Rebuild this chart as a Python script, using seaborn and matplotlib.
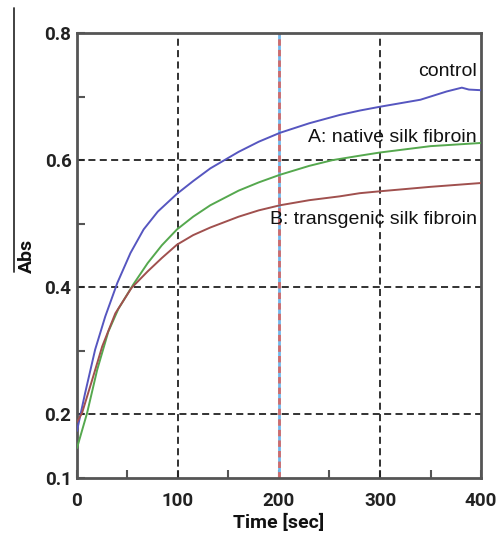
import matplotlib
matplotlib.use("Agg")
import matplotlib.pyplot as plt
import numpy as np
import pandas as pd
import seaborn as sns
from matplotlib.lines import Line2D
from matplotlib.ticker import FixedLocator

# ---- data ----
control_t = [0, 8, 18, 28, 40, 53, 66, 80, 99, 115, 132, 160, 180, 201, 230, 260, 280, 300, 340, 366, 381, 388, 400]
control_v = [0.174, 0.233, 0.302, 0.354, 0.407, 0.454, 0.491, 0.519, 0.547, 0.567, 0.587, 0.613, 0.629, 0.643,
             0.658, 0.671, 0.678, 0.684, 0.695, 0.708, 0.714, 0.711, 0.710]

native_t = [0, 10, 20, 31, 41, 56, 70, 84, 99, 115, 132, 160, 180, 201, 230, 253, 280, 300, 350, 400]
native_v = [0.147, 0.202, 0.270, 0.330, 0.366, 0.405, 0.438, 0.466, 0.491, 0.511, 0.529, 0.552, 0.565,
            0.577, 0.591, 0.600, 0.607, 0.612, 0.622, 0.627]

transgenic_t = [0, 5, 15, 25, 38, 54, 70, 84, 99, 115, 132, 160, 180, 201, 230, 260, 280, 300, 350, 400]
transgenic_v = [0.188, 0.202, 0.254, 0.307, 0.359, 0.399, 0.425, 0.446, 0.467, 0.482, 0.494, 0.511, 0.521,
                0.529, 0.537, 0.543, 0.548, 0.551, 0.558, 0.564]

series_names = ["control", "A: native silk fibroin", "B: transgenic silk fibroin"]
series_colors = ["#5656c0", "#55a84e", "#a0504e"]
label_pos = [(396, 0.739), (396, 0.635), (396, 0.506)]

x_ticks = [0, 100, 200, 300, 400]
x_minor = [50, 150, 250, 350]
y_ticks = [0.1, 0.2, 0.4, 0.6, 0.8]
y_minor = [0.3, 0.5, 0.7]
y_tick_labels = ["0.1", "0.2", "0.4", "0.6", "0.8"]

df = pd.concat([
    pd.DataFrame({"t": control_t, "v": control_v, "s": series_names[0]}),
    pd.DataFrame({"t": native_t, "v": native_v, "s": series_names[1]}),
    pd.DataFrame({"t": transgenic_t, "v": transgenic_v, "s": series_names[2]}),
])

sns.set_style("white")
plt.rcParams['font.family'] = ['Roboto', 'DejaVu Sans']

fig = plt.figure(figsize=(5.03, 5.39), dpi=100)
ax = fig.add_axes([0.153, 0.1132, 0.8033, 0.8256])

# grid-like reference lines
for gx in [100, 300]:
    ax.axvline(gx, color="#222222", lw=1.3, ls=(0, (3.9, 2.4)), zorder=1)
for gy in [0.2, 0.4, 0.6]:
    ax.axhline(gy, color="#222222", lw=1.3, ls=(0, (3.9, 2.4)), zorder=1)
ax.axvline(200, color="#6fb8ec", lw=2.0, zorder=1.5)
ax.axvline(200, color="#d26a6a", lw=2.0, ls=(0, (2.3, 1.5)), zorder=1.6)

sns.lineplot(data=df, x="t", y="v", hue="s", palette=series_colors, hue_order=series_names,
             linewidth=1.4, legend=False, ax=ax, zorder=3, estimator=None, sort=True)

for name, (lx, ly) in zip(series_names, label_pos):
    ax.text(lx, ly, name, ha="right", va="center", fontsize=14,
            family=["Liberation Sans", "DejaVu Sans"], color="#111111")

ax.set_xlim(0, 400)
ax.set_ylim(0.1, 0.8)
ax.xaxis.set_major_locator(FixedLocator(x_ticks))
ax.xaxis.set_minor_locator(FixedLocator(x_minor))
ax.yaxis.set_major_locator(FixedLocator(y_ticks))
ax.yaxis.set_minor_locator(FixedLocator(y_minor))
ax.set_yticklabels(y_tick_labels)

for sp in ax.spines.values():
    sp.set_color("#555555")
    sp.set_linewidth(2)

ax.tick_params(axis="both", which="both", direction="in", color="#555555", width=1.5,
               labelsize=13.5, labelcolor="#222222", bottom=True, left=True, top=False, right=False)
ax.tick_params(axis="both", which="major", length=6)
ax.tick_params(axis="both", which="minor", length=6)
ax.tick_params(axis="x", which="major", pad=10)
ax.tick_params(axis="y", which="major", pad=4)
for lab in ax.get_xticklabels() + ax.get_yticklabels():
    lab.set_fontweight("bold")

ax.set_xlabel("Time [sec]", fontsize=14, fontweight="bold", color="#111111", labelpad=3)
ax.set_ylabel("Abs", fontsize=14, fontweight="bold", color="#111111", labelpad=6)

# stray vertical stroke at the left edge of the original figure
fig.add_artist(Line2D([14 / 503, 14 / 503], [1 - 8 / 539, 1 - 272 / 539],
                      transform=fig.transFigure, color="#333333", lw=1.3))

fig.savefig("out.png", dpi=100, facecolor="white")
